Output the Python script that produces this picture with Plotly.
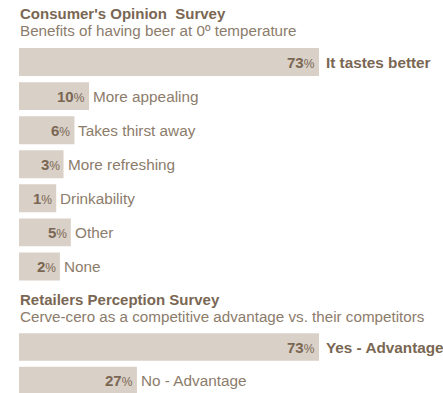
import plotly.graph_objects as go

# ---- data ----
consumer_labels = ["It tastes better", "More appealing", "Takes thirst away",
                   "More refreshing", "Drinkability", "Other", "None"]
consumer_values = [73, 10, 6, 3, 1, 5, 2]
retailer_labels = ["Yes - Advantage", "No - Advantage"]
retailer_values = [73, 27]

title1 = "Consumer's Opinion  Survey"
subtitle1 = "Benefits of having beer at 0º temperature"
title2 = "Retailers Perception Survey"
subtitle2 = "Cerve-cero as a competitive advantage vs. their competitors"

# ---- style ----
W, H = 443, 393
BAR = "#d9d0c7"
DARK = "#7a6753"
TXT = "#8c7c6b"
FONT = "Liberation Sans, Arial, sans-serif"
PAD1, PAD2 = 9.2, 2.8  # visual lead-in of bars (style)

def px(x):
    return x / W

def py(y):
    return 1 - y / H

fig = go.Figure()
fig.add_trace(go.Bar(
    y=consumer_labels, x=[v + PAD1 for v in consumer_values], base=-PAD1,
    orientation="h", marker=dict(color=BAR, line=dict(width=0)),
    xaxis="x", yaxis="y", hoverinfo="skip"))
fig.add_trace(go.Bar(
    y=retailer_labels, x=[v + PAD2 for v in retailer_values], base=-PAD2,
    orientation="h", marker=dict(color=BAR, line=dict(width=0)),
    xaxis="x2", yaxis="y2", hoverinfo="skip"))

ann = []
def labels(lbls, vals, xref, yref):
    for i, (l, v) in enumerate(zip(lbls, vals)):
        ann.append(dict(x=v, y=l, xref=xref, yref=yref, xanchor="right", yanchor="middle",
                        xshift=-2, showarrow=False,
                        text=f"<b>{v}</b><span style='font-size:12px'>%</span>",
                        font=dict(family=FONT, size=15, color=DARK)))
        first = i == 0
        ann.append(dict(x=v, y=l, xref=xref, yref=yref, xanchor="left", yanchor="middle",
                        xshift=5 if first else 2, showarrow=False,
                        text=f"<b>{l}</b>" if first else l,
                        font=dict(family=FONT, size=15.3, color=DARK if first else TXT)))

labels(consumer_labels, consumer_values, "x", "y")
labels(retailer_labels, retailer_values, "x2", "y2")

for t, s, yt, ys in [(title1, subtitle1, 14, 30.5), (title2, subtitle2, 299.5, 316)]:
    ann.append(dict(x=px(18.5), y=py(yt), xref="paper", yref="paper", xanchor="left",
                    yanchor="middle", showarrow=False, text=f"<b>{t}</b>",
                    borderpad=0, font=dict(family=FONT, size=15, color=DARK)))
    ann.append(dict(x=px(18.5), y=py(ys), xref="paper", yref="paper", xanchor="left",
                    yanchor="middle", showarrow=False, text=s,
                    borderpad=0, font=dict(family=FONT, size=15.2, color=TXT)))

sc1 = 300 / (73 + PAD1)
x1min = -PAD1 - 19 / sc1
sc2 = 300 / (73 + PAD2)
x2min = -PAD2 - 19 / sc2

axis_common = dict(showgrid=False, zeroline=False, showticklabels=False, ticks="",
                   showline=False, fixedrange=True)

fig.update_layout(
    width=W, height=H, margin=dict(l=0, r=0, t=0, b=0),
    paper_bgcolor="white", plot_bgcolor="white", showlegend=False,
    bargap=0.18,
    xaxis=dict(domain=[0, 1], range=[x1min, x1min + W / sc1], **axis_common),
    yaxis=dict(domain=[py(283.5), py(45)], autorange="reversed", type="category",
               anchor="x", **axis_common),
    xaxis2=dict(domain=[0, 1], range=[x2min, x2min + W / sc2], anchor="y2", **axis_common),
    yaxis2=dict(domain=[0, py(330.25)], range=[1.373, -0.5], type="category",
                anchor="x2", **axis_common),
    annotations=ann,
)

fig.write_html("out.html")
